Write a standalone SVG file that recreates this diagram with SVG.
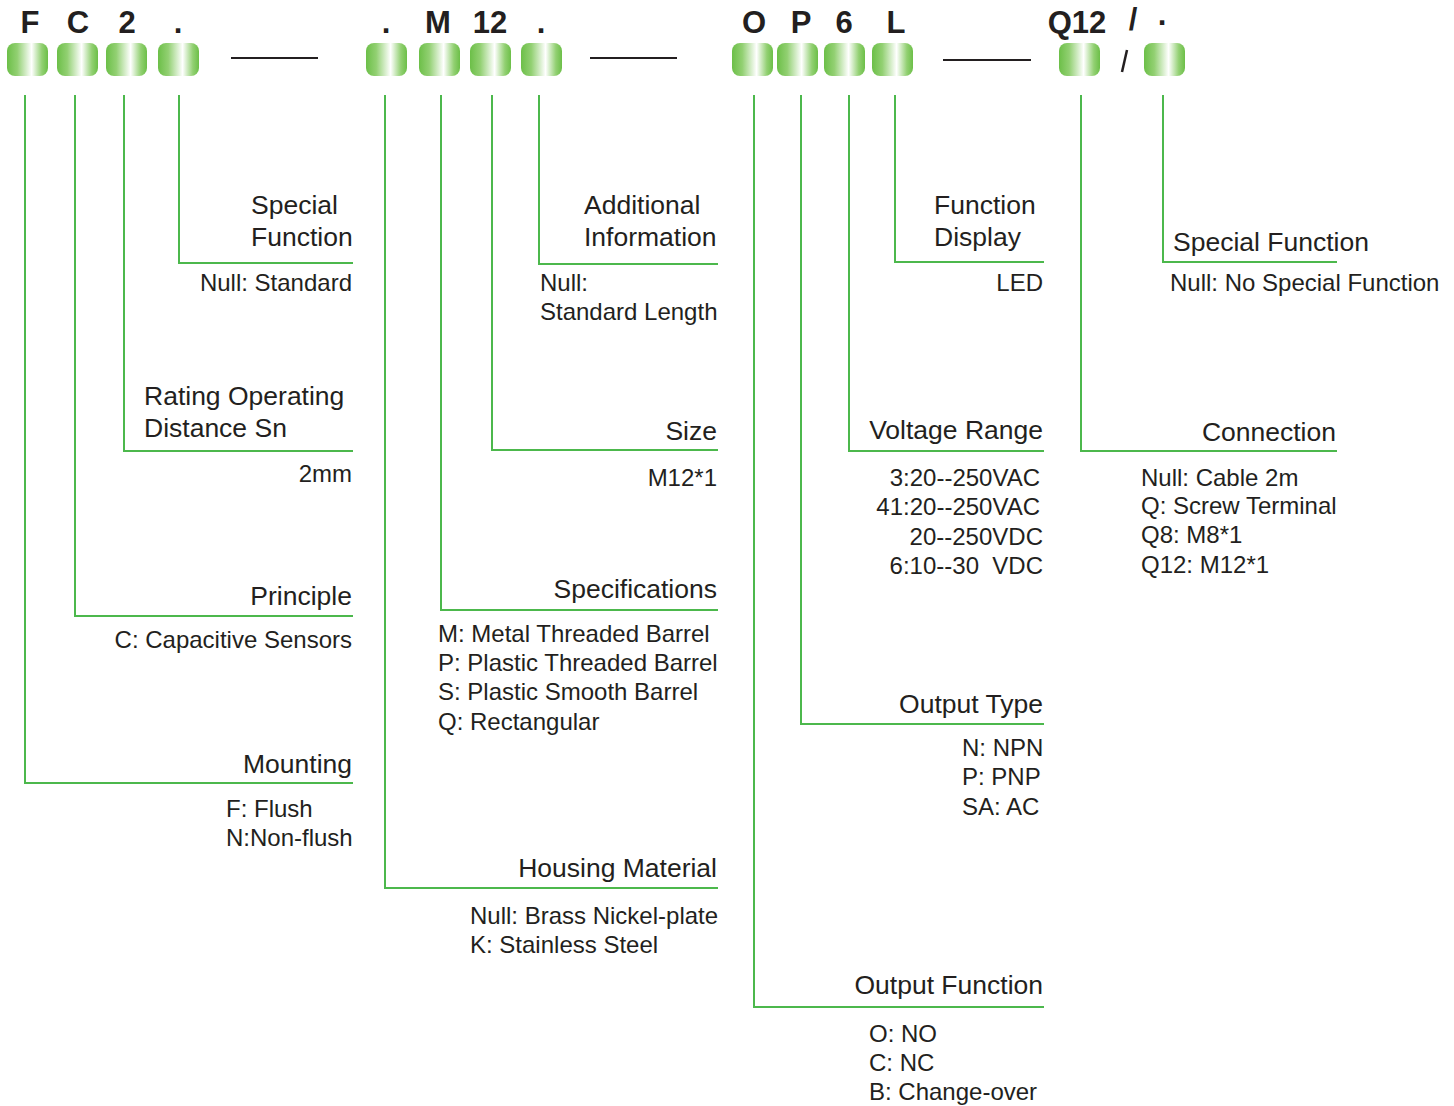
<svg xmlns="http://www.w3.org/2000/svg" width="1454" height="1106" viewBox="0 0 1454 1106">
<defs>
<linearGradient id="pg" x1="0" y1="0" x2="1" y2="0">
<stop offset="0" stop-color="#6cbf48"/>
<stop offset="0.25" stop-color="#92d072"/>
<stop offset="0.6" stop-color="#ffffff"/>
<stop offset="0.85" stop-color="#92d072"/>
<stop offset="1" stop-color="#6cbf48"/>
</linearGradient>
</defs>
<style>
.pill{fill:url(#pg)}
.code{font-family:"Liberation Sans",Arial,sans-serif;font-weight:bold;font-size:31px;fill:#231f20;text-anchor:middle}
.h{font-family:"Liberation Sans",Arial,sans-serif;font-size:26.5px;fill:#231f20}
.v{font-family:"Liberation Sans",Arial,sans-serif;font-size:24px;fill:#231f20}
.r{text-anchor:end}
.conn{fill:none;stroke:#4cb84c;stroke-width:2}
.dash{stroke:#231f20;stroke-width:2}
</style>
<rect width="1454" height="1106" fill="#ffffff"/>

<g id="code">
<text class="code" x="30" y="33">F</text>
<text class="code" x="78" y="33">C</text>
<text class="code" x="127" y="33">2</text>
<text class="code" x="178" y="33">.</text>
<text class="code" x="386" y="33">.</text>
<text class="code" x="438" y="33">M</text>
<text class="code" x="490" y="33">12</text>
<text class="code" x="541" y="33">.</text>
<text class="code" x="754" y="33">O</text>
<text class="code" x="801" y="33">P</text>
<text class="code" x="844" y="33">6</text>
<text class="code" x="896" y="33">L</text>
<text class="code" x="1077" y="33">Q12</text>
<text class="code" x="1133" y="30">/</text>
<text class="code" x="1163" y="33">·</text>
</g>

<g id="pills">
<rect class="pill" x="7" y="43" width="41" height="33" rx="8"/>
<rect class="pill" x="57" y="43" width="41" height="33" rx="8"/>
<rect class="pill" x="106" y="43" width="41" height="33" rx="8"/>
<rect class="pill" x="158" y="43" width="41" height="33" rx="8"/>
<rect class="pill" x="366" y="43" width="41" height="33" rx="8"/>
<rect class="pill" x="419" y="43" width="41" height="33" rx="8"/>
<rect class="pill" x="470" y="43" width="41" height="33" rx="8"/>
<rect class="pill" x="521" y="43" width="41" height="33" rx="8"/>
<rect class="pill" x="732" y="43" width="41" height="33" rx="8"/>
<rect class="pill" x="777" y="43" width="41" height="33" rx="8"/>
<rect class="pill" x="824" y="43" width="41" height="33" rx="8"/>
<rect class="pill" x="872" y="43" width="41" height="33" rx="8"/>
<rect class="pill" x="1059" y="43" width="41" height="33" rx="8"/>
<rect class="pill" x="1144" y="43" width="41" height="33" rx="8"/>
<line class="dash" x1="231" y1="58" x2="318" y2="58"/>
<line class="dash" x1="590" y1="58" x2="677" y2="58"/>
<line class="dash" x1="943" y1="60" x2="1031" y2="60"/>
<line x1="1127" y1="50" x2="1122" y2="72" stroke="#231f20" stroke-width="2.5"/>
</g>

<g id="connectors">
<polyline class="conn" points="25,95 25,783 353,783"/>
<polyline class="conn" points="75,95 75,616 353,616"/>
<polyline class="conn" points="124,95 124,451 353,451"/>
<polyline class="conn" points="179,95 179,263 353,263"/>
<polyline class="conn" points="385,95 385,888 718,888"/>
<polyline class="conn" points="441,95 441,610 718,610"/>
<polyline class="conn" points="492,95 492,450 718,450"/>
<polyline class="conn" points="539,95 539,264 718,264"/>
<polyline class="conn" points="754,95 754,1007 1044,1007"/>
<polyline class="conn" points="801,95 801,724 1044,724"/>
<polyline class="conn" points="849,95 849,451 1044,451"/>
<polyline class="conn" points="895,95 895,262 1044,262"/>
<polyline class="conn" points="1081,95 1081,451 1337,451"/>
<polyline class="conn" points="1163,95 1163,262 1337,262"/>
</g>

<g id="mounting">
<text class="h r" x="352" y="773">Mounting</text>
<text class="v" x="226" y="817">F: Flush</text>
<text class="v" x="226" y="846">N:Non-flush</text>
</g>
<g id="principle">
<text class="h r" x="352" y="605">Principle</text>
<text class="v r" x="352" y="648">C: Capacitive Sensors</text>
</g>
<g id="rating">
<text class="h" x="144" y="405">Rating Operating</text>
<text class="h" x="144" y="437">Distance Sn</text>
<text class="v r" x="352" y="482">2mm</text>
</g>
<g id="special1">
<text class="h" x="251" y="214">Special</text>
<text class="h" x="251" y="246">Function</text>
<text class="v r" x="352" y="291">Null: Standard</text>
</g>
<g id="housing">
<text class="h r" x="717" y="877">Housing Material</text>
<text class="v" x="470" y="924">Null: Brass Nickel-plate</text>
<text class="v" x="470" y="953">K: Stainless Steel</text>
</g>
<g id="specifications">
<text class="h r" x="717" y="598">Specifications</text>
<text class="v" x="438" y="642">M: Metal Threaded Barrel</text>
<text class="v" x="438" y="671">P: Plastic Threaded Barrel</text>
<text class="v" x="438" y="700">S: Plastic Smooth Barrel</text>
<text class="v" x="438" y="730">Q: Rectangular</text>
</g>
<g id="size">
<text class="h r" x="717" y="440">Size</text>
<text class="v r" x="717" y="486">M12*1</text>
</g>
<g id="additional">
<text class="h" x="584" y="214">Additional</text>
<text class="h" x="584" y="246">Information</text>
<text class="v" x="540" y="291">Null:</text>
<text class="v" x="540" y="320">Standard Length</text>
</g>
<g id="outputfunction">
<text class="h r" x="1043" y="994">Output Function</text>
<text class="v" x="869" y="1042">O: NO</text>
<text class="v" x="869" y="1071">C: NC</text>
<text class="v" x="869" y="1100">B: Change-over</text>
</g>
<g id="outputtype">
<text class="h r" x="1043" y="713">Output Type</text>
<text class="v" x="962" y="756">N: NPN</text>
<text class="v" x="962" y="785">P: PNP</text>
<text class="v" x="962" y="815">SA: AC</text>
</g>
<g id="voltage">
<text class="h r" x="1043" y="439">Voltage Range</text>
<text class="v r" x="1040" y="486">3:20--250VAC</text>
<text class="v r" x="1040" y="515">41:20--250VAC</text>
<text class="v r" x="1043" y="545">20--250VDC</text>
<text class="v r" x="1043" y="574" xml:space="preserve">6:10--30  VDC</text>
</g>
<g id="display">
<text class="h" x="934" y="214">Function</text>
<text class="h" x="934" y="246">Display</text>
<text class="v r" x="1043" y="291">LED</text>
</g>
<g id="connection">
<text class="h r" x="1336" y="441">Connection</text>
<text class="v" x="1141" y="486">Null: Cable 2m</text>
<text class="v" x="1141" y="514">Q: Screw Terminal</text>
<text class="v" x="1141" y="543">Q8: M8*1</text>
<text class="v" x="1141" y="573">Q12: M12*1</text>
</g>
<g id="special2">
<text class="h" x="1173" y="251">Special Function</text>
<text class="v" x="1170" y="291">Null: No Special Function</text>
</g>
</svg>
